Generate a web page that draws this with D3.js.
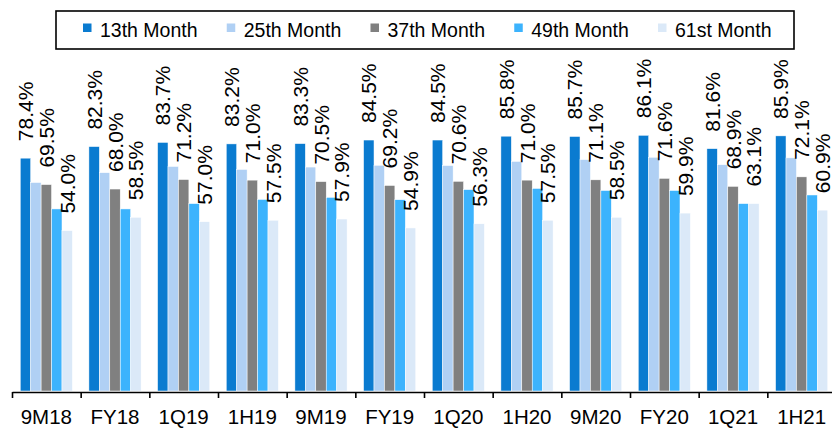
<!DOCTYPE html>
<html>
<head>
<meta charset="utf-8">
<script src="https://cdn.jsdelivr.net/npm/d3@7"></script>
<style>
  body { margin: 0; background: #fff; }
  svg { font-family: "Liberation Sans", Arial, sans-serif; }
</style>
</head>
<body>
<div id="chart"></div>
<script>
// categories and series values
var categories = ["9M18", "FY18", "1Q19", "1H19", "9M19", "FY19", "1Q20", "1H20", "9M20", "FY20", "1Q21", "1H21"];
var seriesNames = ["13th Month", "25th Month", "37th Month", "49th Month", "61st Month"];
var m13 = [78.4, 82.3, 83.7, 83.2, 83.3, 84.5, 84.5, 85.8, 85.7, 86.1, 81.6, 85.9];
var m25 = [70.2, 73.5, 75.6, 74.6, 75.4, 76.0, 75.9, 77.3, 77.9, 78.7, 76.2, 78.5];
var m37 = [69.5, 68.0, 71.2, 71.0, 70.5, 69.2, 70.6, 71.0, 71.1, 71.6, 68.9, 72.1];
var m49 = [61.3, 61.3, 63.1, 64.5, 65.2, 64.4, 67.8, 68.2, 67.5, 67.5, 63.1, 66.0];
var m61 = [54.0, 58.5, 57.0, 57.5, 57.9, 54.9, 56.3, 57.5, 58.5, 59.9, 63.1, 60.9];
var colors = ["#0a7bd0", "#b0d0f4", "#808080", "#3cb3fd", "#dbe9f8"];
// only these series carry a data label
var labelled = ["13th Month", "37th Month", "61st Month"];

var values = [m13, m25, m37, m49, m61];

var width = 832, height = 428;
var svg = d3.select("#chart").append("svg")
    .attr("width", width)
    .attr("height", height);

// scales
var x0 = d3.scaleBand()
    .domain(categories)
    .range([12, 836])
    .paddingInner(0.24)
    .paddingOuter(0.12);

var x1 = d3.scaleBand()
    .domain(seriesNames)
    .range([0, x0.bandwidth()]);

var y = d3.scaleLinear()
    .domain([0, 100])
    .range([391, 94]);

var color = d3.scaleOrdinal().domain(seriesNames).range(colors);

// build rows for drawing
var rows = [];
categories.forEach(function(c, i) {
    seriesNames.forEach(function(s, j) {
        rows.push({ cat: c, series: s, value: values[j][i] });
    });
});

// bars
svg.append("g").selectAll("rect")
    .data(rows)
    .enter().append("rect")
    .attr("x", function(d) { return x0(d.cat) + x1(d.series); })
    .attr("y", function(d) { return y(d.value); })
    .attr("width", x1.bandwidth())
    .attr("height", function(d) { return y(0) - y(d.value); })
    .attr("fill", function(d) { return color(d.series); })
    .attr("stroke", "#fff")
    .attr("stroke-width", 0.5);

// data labels (rotated)
svg.append("g").selectAll("text")
    .data(rows.filter(function(d) { return labelled.indexOf(d.series) >= 0; }))
    .enter().append("text")
    .attr("transform", function(d) {
        var cx = x0(d.cat) + x1(d.series) + x1.bandwidth() / 2;
        return "translate(" + cx + "," + (y(d.value) - 17) + ") rotate(-90)";
    })
    .attr("dy", "0.36em")
    .attr("font-size", 21)
    .attr("fill", "#000")
    .text(function(d) { return d.value.toFixed(1) + "%"; });

// x axis: line + ticks at group edges
var edge = d3.scaleLinear().domain([0, categories.length]).range([12, 836]);
var tickAxis = d3.axisBottom(edge)
    .tickValues(d3.range(categories.length + 1))
    .tickFormat("")
    .tickSize(6)
    .tickSizeOuter(0);

var gx = svg.append("g")
    .attr("transform", "translate(0," + 392 + ")")
    .call(tickAxis);
gx.select(".domain").attr("stroke", "#000").attr("stroke-width", 1.6);
gx.selectAll(".tick line").attr("stroke", "#000").attr("stroke-width", 1.6);

// category labels
var labelAxis = d3.axisBottom(x0).tickSize(0).tickPadding(17);
var gl = svg.append("g")
    .attr("transform", "translate(0," + 392 + ")")
    .call(labelAxis);
gl.select(".domain").remove();
gl.selectAll("text")
    .attr("font-size", 20.5)
    .attr("font-family", "Liberation Sans, Arial, sans-serif")
    .attr("fill", "#000");

// legend
var legend = svg.append("g");
legend.append("rect")
    .attr("x", 56)
    .attr("y", 11)
    .attr("width", 738)
    .attr("height", 38)
    .attr("fill", "#fff")
    .attr("stroke", "#000")
    .attr("stroke-width", 1.6);

var legendX = d3.scalePoint().domain(seriesNames).range([83, 658]);

var item = legend.selectAll(".item")
    .data(seriesNames)
    .enter().append("g")
    .attr("class", "item")
    .attr("transform", function(d) { return "translate(" + legendX(d) + ",0)"; });

item.append("rect")
    .attr("x", 0)
    .attr("y", 23.5)
    .attr("width", 8.5)
    .attr("height", 8.5)
    .attr("fill", function(d) { return color(d); });

item.append("text")
    .attr("x", 17)
    .attr("y", 37)
    .attr("font-size", 19.5)
    .attr("fill", "#000")
    .text(function(d) { return d; });
</script>
</body>
</html>
